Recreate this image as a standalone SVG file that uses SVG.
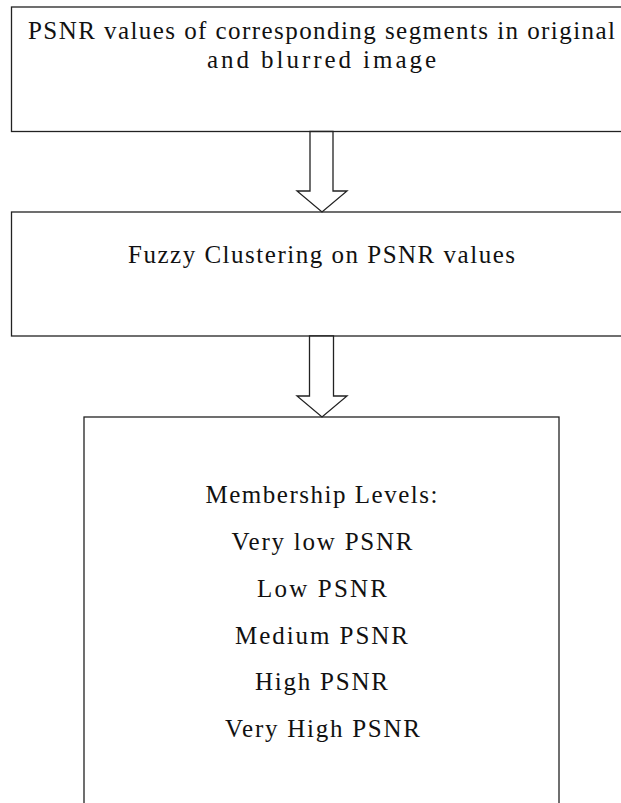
<svg xmlns="http://www.w3.org/2000/svg" width="621" height="803" viewBox="0 0 621 803">
<style>
.box{fill:#fff;stroke:#222;stroke-width:1.3}
.arr{fill:#fff;stroke:#222;stroke-width:1.3;stroke-linejoin:miter}
.t{font-family:"Liberation Serif","Times New Roman",serif;font-size:25px;fill:#111;text-anchor:middle}
</style>
<rect x="0" y="0" width="621" height="803" fill="#fff"/>
<g id="node-psnr">
<rect class="box" x="11.5" y="7" width="620" height="124.5"/>
<text class="t" x="321.5" y="38.5" textLength="587" lengthAdjust="spacing">PSNR values of corresponding segments in original</text>
<text class="t" x="321.5" y="67.5" textLength="229" lengthAdjust="spacing">and blurred image</text>
</g>
<g id="node-fuzzy">
<rect class="box" x="11.5" y="212" width="620" height="124"/>
<text class="t" x="321.5" y="263" textLength="387" lengthAdjust="spacing">Fuzzy Clustering on PSNR values</text>
</g>
<g id="node-membership">
<rect class="box" x="84" y="417" width="475" height="420"/>
<text class="t" x="321.5" y="503" textLength="232" lengthAdjust="spacing">Membership Levels:</text>
<text class="t" x="322" y="550" textLength="181" lengthAdjust="spacing">Very low PSNR</text>
<text class="t" x="322" y="597" textLength="130" lengthAdjust="spacing">Low PSNR</text>
<text class="t" x="321.5" y="643.5" textLength="173" lengthAdjust="spacing">Medium PSNR</text>
<text class="t" x="321.5" y="690" textLength="133" lengthAdjust="spacing">High PSNR</text>
<text class="t" x="322.5" y="737" textLength="195" lengthAdjust="spacing">Very High PSNR</text>
</g>
<g id="connectors">
<polygon class="arr" points="310,131.5 333,131.5 333,191 347,191 322,212 297,191 310,191"/>
<polygon class="arr" points="309.5,336 333.5,336 333.5,396 347,396 322,417 297,396 309.5,396"/>
</g>
</svg>
